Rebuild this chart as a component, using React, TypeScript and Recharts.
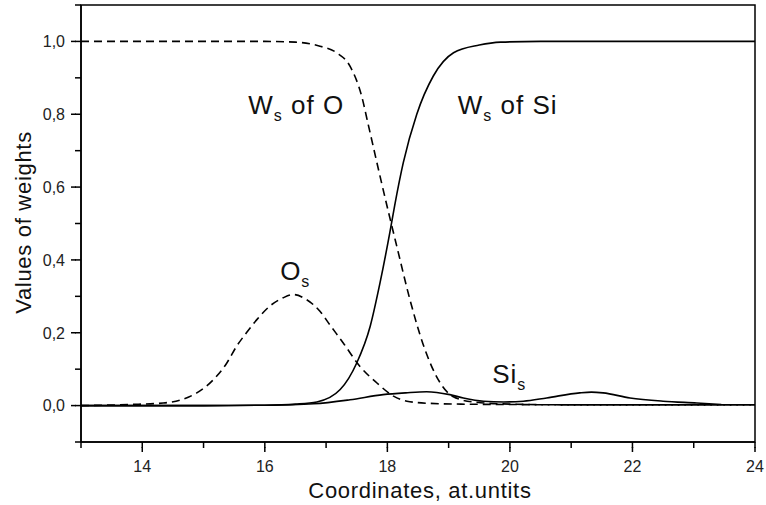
import { Line, LineChart, ReferenceArea, ReferenceDot, XAxis, YAxis, Label } from "recharts";

// W_s of O (dashed step down)
const wOX = [13, 14, 15, 16, 16.5, 16.9, 17.17, 17.39, 17.58, 17.69, 17.88, 18.02, 18.15, 18.37, 18.58, 18.86, 19.07, 19.4, 20, 21, 22, 23, 24];
const wOV = [1, 1, 1, 1, 0.998, 0.987, 0.969, 0.932, 0.85, 0.77, 0.63, 0.53, 0.44, 0.29, 0.17, 0.063, 0.025, 0.01, 0.004, 0.002, 0.002, 0.002, 0.002];

// W_s of Si (solid step up)
const wSiX = [13, 14, 15, 16, 16.5, 16.85, 17.23, 17.5, 17.72, 17.88, 18.04, 18.12, 18.26, 18.48, 18.75, 19.08, 19.5, 19.85, 20.5, 21, 22, 23, 24];
const wSiV = [0, 0, 0, 0.001, 0.004, 0.01, 0.044, 0.117, 0.218, 0.337, 0.475, 0.55, 0.667, 0.8, 0.905, 0.969, 0.99, 0.998, 1, 1, 1, 1, 1];

// O_s (dashed bump)
const oSX = [13, 13.8, 14.34, 14.62, 14.89, 15.16, 15.38, 15.54, 15.7, 15.87, 16.08, 16.3, 16.47, 16.68, 16.9, 17.06, 17.28, 17.55, 17.83, 18.1, 18.32, 18.7, 19.2, 20, 21, 22, 23, 24];
const oSV = [0, 0.003, 0.007, 0.015, 0.035, 0.071, 0.117, 0.163, 0.2, 0.236, 0.273, 0.296, 0.305, 0.291, 0.259, 0.222, 0.172, 0.108, 0.062, 0.026, 0.012, 0.006, 0.004, 0.003, 0.002, 0.002, 0.002, 0.002];

// Si_s (solid double bump)
const siSX = [13, 15, 16, 16.8, 17.39, 17.93, 18.3, 18.64, 19.02, 19.24, 19.57, 19.9, 20.22, 20.6, 21.14, 21.33, 21.52, 21.96, 22.5, 23.05, 23.45];
const siSV = [0, 0, 0.001, 0.005, 0.016, 0.03, 0.035, 0.038, 0.03, 0.021, 0.012, 0.01, 0.012, 0.021, 0.035, 0.037, 0.035, 0.021, 0.012, 0.007, 0.003];

const xTicks = [13, 14, 15, 16, 17, 18, 19, 20, 21, 22, 23, 24];
const yTicks = [-0.1, 0, 0.1, 0.2, 0.3, 0.4, 0.5, 0.6, 0.7, 0.8, 0.9, 1.0, 1.1];

const toPoints = (xs: number[], vs: number[]) => xs.map((x, i) => ({ x, v: vs[i] }));

const FONT = "'Liberation Sans', Arial, sans-serif";
const MINOR = 6;
const MAJOR = 10;
const TICK_MARGIN = 4;

function XTick(props: any) {
  const x = Number(props.x);
  const y = Number(props.y);
  const value = props.payload.value;
  const major = value % 2 === 0;
  const axisY = y - MINOR - TICK_MARGIN;
  return (
    <g>
      {major && <path d={`M${x},${axisY + MINOR - 1}V${axisY + MAJOR}`} stroke="#000" strokeWidth={1.5} fill="none" />}
      {major && (
        <text x={x} y={axisY + 30} textAnchor="middle" fontSize={16} fontFamily={FONT} fill="#222">
          {value}
        </text>
      )}
    </g>
  );
}

function YTick(props: any) {
  const x = Number(props.x);
  const y = Number(props.y);
  const value = props.payload.value;
  const tenth = Math.round(value * 10);
  const major = tenth >= 0 && tenth <= 10 && tenth % 2 === 0;
  const axisX = x + MINOR + TICK_MARGIN;
  return (
    <g>
      {major && <path d={`M${axisX - MAJOR},${y}H${axisX - MINOR + 1}`} stroke="#000" strokeWidth={1.5} fill="none" />}
      {major && (
        <text x={axisX - 16} y={y} dy="0.36em" textAnchor="end" fontSize={16} fontFamily={FONT} fill="#222">
          {value.toFixed(1).replace(".", ",")}
        </text>
      )}
    </g>
  );
}

function curveLabel(main: string, sub: string, rest: string) {
  return (props: any) => (
    <text x={props.cx} y={props.cy} fontSize={26} letterSpacing={1} fontFamily={FONT} fill="#111">
      {main}
      <tspan fontSize={16} dy={7}>{sub}</tspan>
      <tspan dy={-7}>{rest}</tspan>
    </text>
  );
}

export default function App() {
  return (
    <div style={{ position: "absolute", left: 0, top: 0, width: 766, height: 505, background: "#fff" }}>
      <LineChart width={766} height={505} margin={{ top: 5, right: 11, left: 0, bottom: 0 }}>
        <XAxis
          dataKey="x"
          type="number"
          domain={[13, 24]}
          ticks={xTicks}
          interval={0}
          height={63}
          tickSize={MINOR}
          tickMargin={TICK_MARGIN}
          tickLine={{ stroke: "#000", strokeWidth: 1.5 }}
          tick={<XTick />}
          axisLine={{ stroke: "#000", strokeWidth: 1.5 }}
          allowDataOverflow
        >
          <Label
            content={(p: any) => (
              <text
                x={p.viewBox.x + p.viewBox.width / 2 + 2}
                y={p.viewBox.y + 56}
                textAnchor="middle"
                fontSize={22}
                letterSpacing={0.7}
                fontFamily={FONT}
                fill="#111"
              >
                Coordinates, at.untits
              </text>
            )}
          />
        </XAxis>
        <YAxis
          type="number"
          domain={[-0.1, 1.1]}
          ticks={yTicks}
          interval={0}
          width={81}
          tickSize={MINOR}
          tickMargin={TICK_MARGIN}
          tickLine={{ stroke: "#000", strokeWidth: 1.5 }}
          tick={<YTick />}
          axisLine={{ stroke: "#000", strokeWidth: 1.5 }}
          allowDataOverflow
        >
          <Label
            content={(p: any) => {
              const cx = p.viewBox.x + 23;
              const cy = p.viewBox.y + p.viewBox.height / 2 - 1;
              return (
                <text
                  x={cx}
                  y={cy}
                  transform={`rotate(-90 ${cx} ${cy})`}
                  textAnchor="middle"
                  dominantBaseline="central"
                  fontSize={22}
                  letterSpacing={0.7}
                  fontFamily={FONT}
                  fill="#111"
                >
                  Values of weights
                </text>
              );
            }}
          />
        </YAxis>
        <ReferenceArea x1={13} x2={24} y1={-0.1} y2={1.1} fill="none" stroke="#000" strokeWidth={1.5} />
        <Line data={toPoints(wOX, wOV)} dataKey="v" type="monotone" stroke="#000" strokeWidth={1.6} strokeDasharray="8 5" dot={false} isAnimationActive={false} />
        <Line data={toPoints(oSX, oSV)} dataKey="v" type="monotone" stroke="#000" strokeWidth={1.6} strokeDasharray="8 5" dot={false} isAnimationActive={false} />
        <Line data={toPoints(wSiX, wSiV)} dataKey="v" type="monotone" stroke="#000" strokeWidth={1.6} dot={false} isAnimationActive={false} />
        <Line data={toPoints(siSX, siSV)} dataKey="v" type="monotone" stroke="#000" strokeWidth={1.6} dot={false} isAnimationActive={false} />
        <ReferenceDot x={15.73} y={0.8} r={0} shape={curveLabel("W", "s", " of O")} />
        <ReferenceDot x={19.15} y={0.8} r={0} shape={curveLabel("W", "s", " of Si")} />
        <ReferenceDot x={16.25} y={0.346} r={0} shape={curveLabel("O", "s", "")} />
        <ReferenceDot x={19.71} y={0.063} r={0} shape={curveLabel("Si", "s", "")} />
      </LineChart>
    </div>
  );
}
